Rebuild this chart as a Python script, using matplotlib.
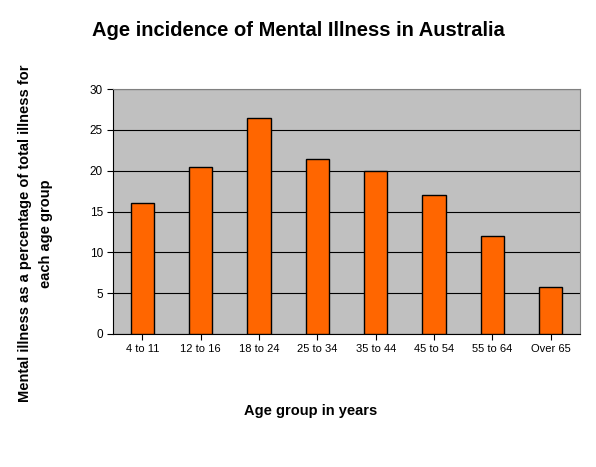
import matplotlib
matplotlib.use("Agg")
import matplotlib.pyplot as plt

plt.rcParams['font.family'] = ['Liberation Sans', 'DejaVu Sans']

categories = ["4 to 11", "12 to 16", "18 to 24", "25 to 34", "35 to 44", "45 to 54", "55 to 64", "Over 65"]
values = [16, 20.5, 26.5, 21.5, 20, 17, 12, 5.7]
yticks = [0, 5, 10, 15, 20, 25, 30]

fig = plt.figure(figsize=(5.96, 4.67), dpi=100)
ax = fig.add_axes([0.190, 0.285, 0.783, 0.524])
ax.set_facecolor('#C0C0C0')
x = range(len(categories))
ax.bar(x, values, width=0.4, color='#FF6600', edgecolor='black', linewidth=1, zorder=3)
ax.set_xlim(-0.5, len(categories) - 0.5)
ax.set_ylim(0, 30)
ax.set_yticks(yticks)
ax.yaxis.grid(True, color='black', linewidth=0.8, zorder=0)
ax.set_xticks(list(x))
ax.set_xticklabels(categories, fontsize=8)
ax.tick_params(axis='y', labelsize=8.5)
for s in ax.spines.values():
    s.set_color('#808080')
ax.spines['left'].set_color('black')
ax.spines['bottom'].set_color('black')
ax.tick_params(axis='x', length=4)
ax.tick_params(axis='y', length=4)

fig.text(0.50, 0.935, "Age incidence of Mental Illness in Australia", ha='center', va='center',
         fontsize=14.5, fontweight='bold')
fig.text(0.522, 0.12, "Age group in years", ha='center', va='center', fontsize=10.5, fontweight='bold')
fig.text(0.06, 0.50, "Mental illness as a percentage of total illness for\neach age group",
         ha='center', va='center', rotation=90, fontsize=10.5, fontweight='bold', linespacing=1.6)

fig.savefig("out.png", dpi=100)
